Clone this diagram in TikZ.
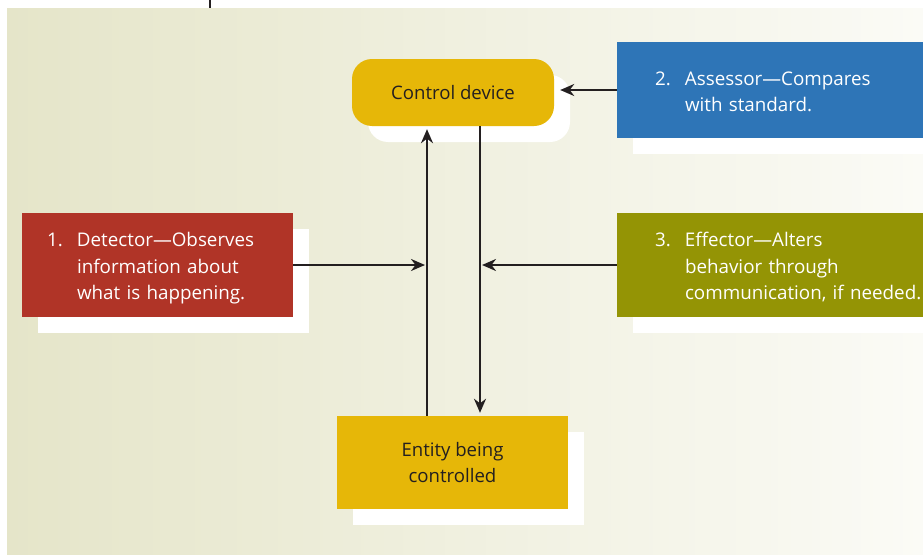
\documentclass[tikz,border=0pt]{standalone}
\usepackage{fontspec}
\setmainfont{Open Sans}
\usetikzlibrary{arrows.meta,shadows}

\definecolor{ctrlgold}{HTML}{E6B708}
\definecolor{assessblue}{HTML}{2E75B7}
\definecolor{detectred}{HTML}{B03427}
\definecolor{effectolive}{HTML}{949405}
\definecolor{bgleft}{HTML}{E5E5C9}
\definecolor{bgmid}{HTML}{EDEDDA}
\definecolor{bgright}{HTML}{FBFBF6}
\definecolor{inkdark}{HTML}{231F20}

\newcommand{\numitem}[2]{\begin{tabular}{@{}p{30pt}@{}l@{}}\rule{0pt}{24.5pt}#1&#2\end{tabular}}

\tikzset{
  whiteshadow/.style={drop shadow={shadow xshift=16pt, shadow yshift=-16pt, fill=white, opacity=1}},
  stepbox/.style={whiteshadow, inner ysep=0pt, align=left, text=white,
    font=\fontsize{18.8}{26.5}\selectfont},
  goldbox/.style={whiteshadow, fill=ctrlgold, text=inkdark, align=center,
    font=\fontsize{18.6}{26.5}\selectfont},
  flow/.style={draw=inkdark, line width=2.8pt, -{Stealth[length=14pt,width=12pt]}}
}

\begin{document}
\begin{tikzpicture}[x=1pt, y=-1pt]
            \useasboundingbox (0,0) rectangle (923,554);

            % Background panel
            \shade[left color=bgleft, middle color=bgmid, right color=bgright] (7,8) rectangle (923,554);
            \draw[inkdark, line width=1.4pt] (210,0) -- (210,8);

            % Control device
            \node[goldbox, rounded corners=20pt, minimum width=202pt, minimum height=67pt] (ctrl) at (453,92.5) {Control device};

            % Entity being controlled
            \node[goldbox, minimum width=231pt, minimum height=93pt] (entity) at (452.5,462.5) {Entity being\\controlled};

            % Numbered steps
            \node[stepbox, fill=detectred, inner xsep=25pt, text width=221pt, minimum height=104pt] (detect) at (157.5,265)
                {\numitem{1.}{Detector---Observes\\&information about\\&what is happening.}};
            \node[stepbox, fill=assessblue, inner xsep=38pt, text width=230pt, minimum height=96pt] (assess) at (770,90)
                {\numitem{2.}{Assessor---Compares\\&with standard.}};
            \node[stepbox, fill=effectolive, inner xsep=38pt, text width=230pt, minimum height=104pt] (effect) at (770,265)
                {\numitem{3.}{Effector---Alters\\&behavior through\\&communication, if needed.}};

            % Vertical feedback lines
            \coordinate (upln) at (427,0);
            \coordinate (dnln) at (480,0);
            \draw[flow, shorten >=3pt] (entity.north -| upln) -- (ctrl.south -| upln);
            \draw[flow, shorten >=3pt] (ctrl.south -| dnln) -- (entity.north -| dnln);

            % Steps feeding the loop
            \draw[flow, shorten >=6pt] (assess.west) -- (assess.west -| ctrl.east);
            \draw[flow, shorten >=2pt] (detect.east) -- (detect.east -| upln);
            \draw[flow, shorten >=2pt] (effect.west) -- (effect.west -| dnln);
\end{tikzpicture}
\end{document}
